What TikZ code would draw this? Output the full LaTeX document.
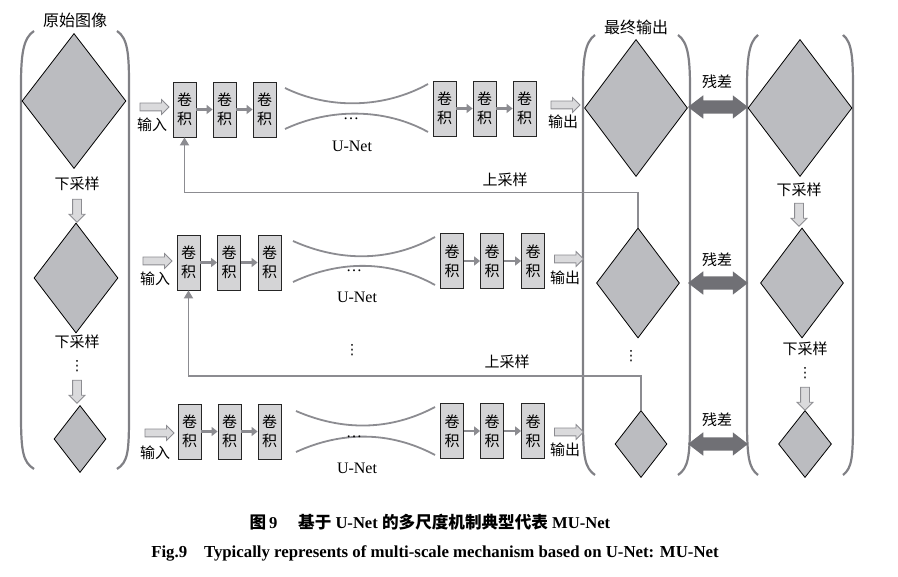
\documentclass[tikz,border=0pt]{standalone}
\usepackage{fontspec}
\setmainfont{Liberation Serif}
\newfontfamily\cn{Noto Sans CJK SC}
\newfontfamily\sym{DejaVu Sans}
\usepackage{tikz}
\usetikzlibrary{shapes.geometric,shapes.arrows,arrows.meta}

\definecolor{dfill}{RGB}{187,188,192}
\definecolor{cfill}{RGB}{212,212,214}
\definecolor{afill}{RGB}{218,218,220}
\definecolor{lgray}{RGB}{140,140,145}
\definecolor{bgray}{RGB}{128,128,133}
\definecolor{rgray}{RGB}{112,112,117}

\newcommand{\zh}{\cn\fontsize{15}{19}\selectfont}

\tikzset{
  img/.style={diamond, draw=black, fill=dfill, line width=0.8pt, inner sep=0pt},
  conv/.style={draw=black!85, fill=cfill, line width=0.8pt, minimum width=23pt,
    minimum height=55pt, inner sep=0pt, align=center, font=\zh},
  flow/.style={draw=lgray, line width=2.2pt, -{Triangle[length=6pt,width=9pt]}},
  upflow/.style={draw=lgray, line width=1.8pt, -{Triangle[length=8pt,width=9pt]}},
  io/.style={single arrow, draw=lgray, fill=afill, line width=0.8pt, minimum height=29pt,
    inner sep=3.5pt, single arrow head extend=3.5pt},
  down/.style={io, shape border rotate=270, minimum height=23pt, inner sep=4pt},
  res/.style={double arrow, fill=rgray, minimum height=60pt, inner sep=6.5pt,
    double arrow head extend=5pt, double arrow tip angle=75},
  brk/.style={draw=bgray, line width=2.2pt},
  net/.style={draw=lgray, line width=1.8pt},
  lab/.style={font=\zh, inner sep=0pt},
  dots/.style={inner sep=0pt, font=\fontsize{16}{19}\selectfont},
  vdot/.style={inner sep=0pt, font=\sym\fontsize{14}{16}\selectfont},
}

\begin{document}
\begin{tikzpicture}[x=1pt,y=-1pt]
\useasboundingbox (0,0) rectangle (898,577);

	% brackets
	\draw[brk] (34,31) .. controls (23,38) and (21,55) .. (21,85) -- (21,415) .. controls (21,452) and (23,462) .. (34,469);
	\draw[brk] (117,31) .. controls (128,38) and (129,55) .. (129,85) -- (129,415) .. controls (129,452) and (128,462) .. (117,469);
	\draw[brk] (595,35) .. controls (585,42) and (583,58) .. (583,88) -- (583,420) .. controls (583,458) and (585,468) .. (595,475);
	\draw[brk] (678,35) .. controls (688,42) and (690,58) .. (690,88) -- (690,420) .. controls (690,458) and (688,468) .. (678,475);
	\draw[brk] (758,35) .. controls (749,42) and (747,58) .. (747,88) -- (747,420) .. controls (747,458) and (749,468) .. (758,475);
	\draw[brk] (843,35) .. controls (852,42) and (853,58) .. (853,88) -- (853,420) .. controls (853,458) and (852,468) .. (843,475);

	\node (T1)[lab,font=\cn\fontsize{16}{19}\selectfont] at (75,20) {原始图像};
	\node (T2)[lab,font=\cn\fontsize{16}{19}\selectfont] at (636,27) {最终输出};

	% images
	\node (S1)[img,minimum width=104pt,minimum height=135pt] at (74,101) {};
	\node (S2)[img,minimum width=84pt,minimum height=110pt] at (76,278) {};
	\node (S3)[img,minimum width=52pt,minimum height=67pt] at (80,439) {};
	\node (F1)[img,minimum width=103pt,minimum height=137pt] at (636,108) {};
	\node (F2)[img,minimum width=83pt,minimum height=110pt] at (638,283) {};
	\node (F3)[img,minimum width=52pt,minimum height=67pt] at (641,444) {};
	\node (R1)[img,minimum width=104pt,minimum height=137pt] at (800,108) {};
	\node (R2)[img,minimum width=83pt,minimum height=110pt] at (802,283) {};
	\node (R3)[img,minimum width=53pt,minimum height=67pt] at (805,444) {};

	\node (D1)[lab] at (77,184) {下采样};
	\node (D2)[lab] at (77,342) {下采样};
	\node (D3)[lab] at (799,190) {下采样};
	\node (D4)[lab] at (805,349) {下采样};
	\node (V1)[vdot] at (77,366) {⋮};
	\node (V2)[vdot] at (631,356) {⋮};
	\node (V3)[vdot] at (805,373) {⋮};
	\node (V4)[vdot] at (352,350) {⋮};
	\node (A1)[down] at (77,208.5) {};
	\node (A2)[down] at (77,389.5) {};
	\node (A3)[down] at (799,212.5) {};
	\node (A4)[down] at (805,396.5) {};

	% residuals
	\node (E1)[lab] at (717,82) {残差};
	\node (E2)[lab] at (717,260) {残差};
	\node (E3)[lab] at (717,420) {残差};
	\node (Q1)[res] at (718,107) {};
	\node (Q2)[res] at (718,283) {};
	\node (Q3)[res] at (718,444) {};

	% row 1
	\node (I1)[io] at (152.5,107) {};
	\node (O1)[io] at (563.5,105) {};
	\node (IL1)[lab] at (152,125) {输入};
	\node (OL1)[lab] at (563,122) {输出};
	\node (C11)[conv] at (184.5,109.5) {卷\\积};
	\node (C12)[conv] at (224.5,109.5) {卷\\积};
	\node (C13)[conv] at (264.5,109.5) {卷\\积};
	\node (C14)[conv] at (444.5,108.5) {卷\\积};
	\node (C15)[conv] at (484.5,108.5) {卷\\积};
	\node (C16)[conv] at (524.5,108.5) {卷\\积};
	\draw[net] (285,88) .. controls (330,110) and (385,108) .. (428,84);
	\draw[net] (285,129) .. controls (330,108) and (385,108) .. (428,132);
	\node (P1)[dots] at (351,119) {…};
	\node (N1)[dots] at (352,146) {U-Net};

	% row 2
	\node (I2)[io] at (155.5,261) {};
	\node (O2)[io] at (567,259) {};
	\node (IL2)[lab] at (155,279) {输入};
	\node (OL2)[lab] at (565,278) {输出};
	\node (C21)[conv] at (188.5,262.5) {卷\\积};
	\node (C22)[conv] at (229,262.5) {卷\\积};
	\node (C23)[conv] at (269.5,262.5) {卷\\积};
	\node (C24)[conv] at (452,261) {卷\\积};
	\node (C25)[conv] at (492,261) {卷\\积};
	\node (C26)[conv] at (533,261) {卷\\积};
	\draw[net] (293,241) .. controls (340,262) and (390,262) .. (435,237);
	\draw[net] (293,282) .. controls (340,260) and (390,260) .. (435,285);
	\node (P2)[dots] at (354,271) {…};
	\node (N2)[dots] at (357,297) {U-Net};

	% row 3
	\node (I3)[io] at (157.5,433) {};
	\node (O3)[io] at (567,432) {};
	\node (IL3)[lab] at (155,453) {输入};
	\node (OL3)[lab] at (565,450) {输出};
	\node (C31)[conv] at (189.5,431.5) {卷\\积};
	\node (C32)[conv] at (229.5,431.5) {卷\\积};
	\node (C33)[conv] at (269.5,431.5) {卷\\积};
	\node (C34)[conv] at (452,431) {卷\\积};
	\node (C35)[conv] at (492,431) {卷\\积};
	\node (C36)[conv] at (533,431) {卷\\积};
	\draw[net] (296,411) .. controls (342,431) and (390,431) .. (435,407);
	\draw[net] (296,452) .. controls (342,431) and (390,431) .. (435,455);
	\node (P3)[dots] at (354,437) {…};
	\node (N3)[dots] at (357,468) {U-Net};

	\draw[flow] (C11) -- (C12);
	\draw[flow] (C12) -- (C13);
	\draw[flow] (C14) -- (C15);
	\draw[flow] (C15) -- (C16);
	\draw[flow] (C21) -- (C22);
	\draw[flow] (C22) -- (C23);
	\draw[flow] (C24) -- (C25);
	\draw[flow] (C25) -- (C26);
	\draw[flow] (C31) -- (C32);
	\draw[flow] (C32) -- (C33);
	\draw[flow] (C34) -- (C35);
	\draw[flow] (C35) -- (C36);

	% upsampling
	\node (U1)[lab] at (505,180) {上采样};
	\node (U2)[lab] at (507,362) {上采样};
	\draw[upflow] (F2.north) -- ++(0,-35) -| (C11.south);
	\draw[upflow] (F3.north) -- ++(0,-34) -| (C21.south);

	% caption
	\node (K1)[inner sep=0pt,font=\bfseries\fontsize{16.6}{19}\selectfont] at (430,522) {{\cn 图}\,9\quad\ {\cn 基于} U-Net {\cn 的多尺度机制典型代表} MU-Net};
	\node (K2)[inner sep=0pt,font=\bfseries\fontsize{16.8}{19}\selectfont] at (435,553) {Fig.9\quad Typically represents of multi-scale mechanism based on U-Net: MU-Net};

\end{tikzpicture}
\end{document}
